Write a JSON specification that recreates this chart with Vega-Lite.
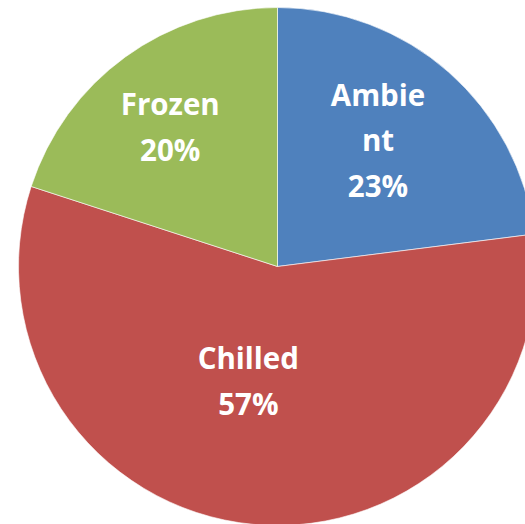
{
  "$schema": "https://vega.github.io/schema/vega-lite/v6.json",
  "width": 555,
  "height": 533,
  "autosize": "none",
  "padding": 0,
  "background": "white",
  "data": {
    "values": [
      {"cat": "Ambient", "value": 23, "label": "Ambie\nnt\n23%"},
      {"cat": "Chilled", "value": 57, "label": "Chilled\n57%"},
      {"cat": "Frozen", "value": 20, "label": "Frozen\n20%"}
    ]
  },
  "encoding": {
    "theta": {"field": "value", "type": "quantitative", "stack": true},
    "detail": {"field": "cat", "type": "nominal"}
  },
  "layer": [
    {
      "mark": {"type": "arc", "outerRadius": 259, "stroke": "#ffffff", "strokeWidth": 1, "strokeOpacity": 0.6},
      "encoding": {
        "color": {
          "field": "cat",
          "type": "nominal",
          "scale": {"domain": ["Ambient", "Chilled", "Frozen"], "range": ["#4F81BD", "#C0504D", "#9BBB59"]},
          "legend": null
        }
      }
    },
    {
      "mark": {"type": "text", "radius": 158, "dx": -4, "dy": -51, "font": "Open Sans", "fontWeight": "bold", "fontSize": 29.5, "lineHeight": 45.5, "lineBreak": "\n", "fill": "white", "align": "center", "baseline": "middle"},
      "encoding": {
        "text": {"condition": {"test": "datum.cat === 'Ambient'", "field": "label"}, "value": ""}
      }
    },
    {
      "mark": {"type": "text", "radius": 174, "dx": -5, "dy": -20, "font": "Open Sans", "fontWeight": "bold", "fontSize": 29.5, "lineHeight": 46, "lineBreak": "\n", "fill": "white", "align": "center", "baseline": "middle"},
      "encoding": {
        "text": {"condition": {"test": "datum.cat === 'Frozen'", "field": "label"}, "value": ""}
      }
    },
    {
      "mark": {"type": "text", "radius": 119, "dx": -18, "dy": -25, "font": "Open Sans", "fontWeight": "bold", "fontSize": 29.5, "lineHeight": 46.5, "lineBreak": "\n", "fill": "white", "align": "center", "baseline": "middle"},
      "encoding": {
        "text": {"condition": {"test": "datum.cat === 'Chilled'", "field": "label"}, "value": ""}
      }
    }
  ]
}
